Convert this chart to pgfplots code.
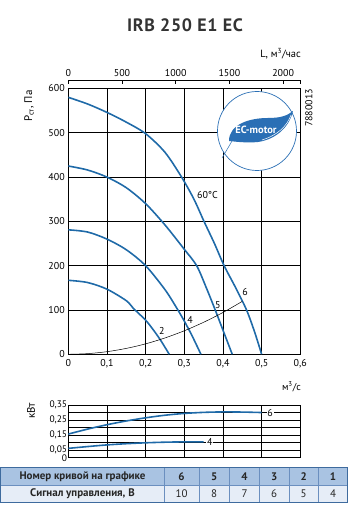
\documentclass[border=0pt]{standalone}
\usepackage{pgfplots}
\pgfplotsset{compat=1.18}
\usepackage{fontspec}
\setmainfont{PT Sans}
\definecolor{curveblue}{HTML}{1F6AA8}
\definecolor{logoblue}{HTML}{2A6FB5}
\definecolor{hdrfill}{HTML}{A9C3E2}
\definecolor{rowfill}{HTML}{E6EDF7}
\definecolor{tblborder}{HTML}{3E6B9E}
\definecolor{tblinner}{HTML}{6B8FBF}
\definecolor{titlegray}{HTML}{333333}
\begin{document}
\begin{tikzpicture}
\useasboundingbox (0,0) rectangle (348bp,509bp);
% ---------------- main pressure chart
\begin{axis}[
  at={(68.3bp,154.7bp)}, anchor=south west,
  scale only axis, width=232bp, height=265.8bp,
  xmin=0, xmax=0.6, ymin=0, ymax=600,
  xtick={0,0.1,0.2,0.3,0.4,0.5,0.6},
  ytick={0,100,200,300,400,500,600},
  scaled ticks=false,
  grid=major, grid style={black, line width=0.6pt},
  axis line style={black, line width=0.8pt},
  major tick length=0pt,
  tick label style={font=\fontsize{10}{12}\selectfont},
  xticklabel style={yshift=-2bp},
  /pgf/number format/.cd, use comma, fixed, assume math mode=true,
]
% curve 6
\addplot[curveblue, line width=1.6pt, smooth, tension=0.5] coordinates {
 (0,580) (0.05,565) (0.1,546) (0.15,524) (0.2,498) (0.25,456) (0.293,400)
 (0.325,350) (0.351,300) (0.378,250) (0.403,200) (0.433,150) (0.461,100) (0.482,50) (0.5,0)};
% curve 5
\addplot[curveblue, line width=1.6pt, smooth, tension=0.5] coordinates {
 (0,425) (0.05,416) (0.1,400) (0.15,376) (0.2,340) (0.25,292) (0.3,237)
 (0.332,200) (0.357,150) (0.38,100) (0.402,50) (0.424,0)};
% curve 4
\addplot[curveblue, line width=1.6pt, smooth, tension=0.5] coordinates {
 (0,281) (0.05,276) (0.1,260) (0.15,236) (0.2,200) (0.25,146) (0.28,105)
 (0.3,75) (0.32,42) (0.343,0)};
% curve 2
\addplot[curveblue, line width=1.6pt, smooth, tension=0.5] coordinates {
 (0,167) (0.05,162) (0.1,147) (0.15,121) (0.168,104) (0.2,77) (0.22,55) (0.24,30) (0.261,0)};
% system curve
\addplot[black, line width=0.5pt, smooth] coordinates {
 (0,0) (0.05,1.5) (0.1,5.9) (0.15,13.3) (0.2,23.6) (0.25,36.9) (0.3,53.1)
 (0.35,72.3) (0.4,94.4) (0.45,119.5)};
\node[font=\fontsize{10}{12}\selectfont] at (axis cs:0.242,52) {2};
\node[font=\fontsize{10}{12}\selectfont] at (axis cs:0.315,77) {4};
\node[font=\fontsize{10}{12}\selectfont] at (axis cs:0.387,111) {5};
\node[font=\fontsize{10}{12}\selectfont] at (axis cs:0.457,141) {6};
\node[font=\fontsize{10}{12}\selectfont] at (axis cs:0.36,360) {60°C};
\end{axis}
% ---------------- top axis (m3/h)
\begin{axis}[
  at={(68.3bp,420.5bp)}, anchor=south west,
  scale only axis, width=232bp, height=8bp,
  xmin=0, xmax=2160, ymin=0, ymax=1,
  axis x line=top, axis y line=none,
  axis line style={black, line width=0.8pt, -},
  xtick={0,500,1000,1500,2000},
  extra x ticks={2160}, extra x tick labels={},
  tick align=inside, major tick length=3.5bp,
  tick style={black, line width=0.8pt},
  scaled ticks=false,
  tick label style={font=\fontsize{10}{12}\selectfont},
  /pgf/number format/.cd, 1000 sep={}, assume math mode=true,
]
\addplot[draw=none] coordinates {(0,0)};
\end{axis}
% ---------------- power chart
\begin{axis}[
  at={(68.3bp,51.3bp)}, anchor=south west,
  scale only axis, width=232bp, height=52.7bp,
  xmin=0, xmax=0.6, ymin=0, ymax=0.35,
  xtick={0,0.1,0.2,0.3,0.4,0.5,0.6}, xticklabels={},
  ytick={0,0.05,0.15,0.25,0.35},
  yticklabels={\raisebox{-1.5bp}{0},\raisebox{1.5bp}{0,05},{0,15},{0,25},{0,35}},
  extra y ticks={0.1,0.2,0.3}, extra y tick labels={},
  extra tick style={grid=major, major tick length=0pt},
  grid=major, grid style={black, line width=0.6pt},
  axis line style={black, line width=0.8pt},
  major tick length=0pt,
  tick label style={font=\fontsize{9.5}{10}\selectfont},
  yticklabel style={inner sep=1pt},
]
\addplot[curveblue, line width=1.6pt, smooth] coordinates {
 (0,0.157) (0.05,0.19) (0.1,0.219) (0.15,0.244) (0.2,0.265) (0.25,0.282)
 (0.3,0.294) (0.35,0.301) (0.4,0.304) (0.45,0.303) (0.5,0.30)};
\addplot[curveblue, line width=1.6pt, smooth] coordinates {
 (0,0.062) (0.05,0.074) (0.1,0.085) (0.15,0.093) (0.2,0.099) (0.25,0.103) (0.3,0.105) (0.35,0.105)};
\addplot[black, line width=0.5pt] coordinates {(0.35,0.105) (0.384,0.105)};
\node[fill=white, inner sep=0.8pt, font=\fontsize{10}{11}\selectfont] at (axis cs:0.522,0.30) {6};
\node[fill=white, inner sep=0.8pt, font=\fontsize{10}{11}\selectfont] at (axis cs:0.366,0.105) {4};
\end{axis}
% ---------------- decorations (image coordinates, y downward)
\begin{scope}[x=1bp, y=-1bp, shift={(0bp,509bp)}]
\node[font=\fontsize{18}{20}\selectfont\bfseries, text=titlegray] at (185,25) {\addfontfeatures{LetterSpace=4}IRB 250 E1 EC};
\node[anchor=east, font=\fontsize{10.5}{12}\selectfont, inner sep=0pt] at (301,54) {L, м\textsuperscript{3}/час};
\node[rotate=90, font=\fontsize{11}{12}\selectfont] at (29,106) {P\textsubscript{ст}, Па};
\node[rotate=90, font=\fontsize{10}{12}\selectfont] at (309,108) {7880013};
\node[anchor=east, font=\fontsize{10}{12}\selectfont, inner sep=0pt] at (301,387) {м\textsuperscript{3}/с};
\node[rotate=90, font=\fontsize{11}{12}\selectfont] at (31,411) {кВт};
% logo
\filldraw[draw=logoblue, fill=white, line width=0.7pt] (257,131) circle (39.5bp);
\fill[logoblue] (229,141) .. controls (229,124) and (250,118) .. (268,118)
   .. controls (280,118) and (287,116) .. (293,111)
   .. controls (290,125) and (278,139) .. (258,142)
   .. controls (248,143) and (238,142) .. (229,141) -- cycle;
\draw[white, line width=0.5pt] (262,140) .. controls (278,135) and (287,126) .. (291,115);
\draw[logoblue, line width=0.5pt] (232,141) .. controls (228,148) and (225,153) .. (222,158);
\node[text=white, font=\fontsize{10.5}{12}\selectfont\bfseries] at (256,130) {EC-motor};
% table
\fill[hdrfill] (0.5,468) rectangle (347.5,485.3);
\fill[rowfill] (0.5,485.3) rectangle (347.5,502.3);
\foreach \x in {164,199,229.5,259.5,289,318.5}{
  \draw[tblinner, line width=0.6pt] (\x,468) -- (\x,502.3);
}
\draw[tblinner, line width=0.6pt] (0.5,485.3) -- (347.5,485.3);
\draw[tblborder, line width=1pt] (0.5,468) rectangle (347.5,502.3);
\node[font=\fontsize{11}{12}\selectfont\bfseries, text=black!85] at (82.5,476.8) {Номер кривой на графике};
\node[font=\fontsize{11}{12}\selectfont\bfseries, text=black!85] at (82.5,493.8) {Сигнал управления, В};
\foreach \xc/\a/\b in {181.5/6/10, 214.2/5/8, 244.5/4/7, 274.2/3/6, 303.7/2/5, 333/1/4}{
  \node[font=\fontsize{11}{12}\selectfont\bfseries, text=black!85] at (\xc,476.8) {\a};
  \node[font=\fontsize{11}{12}\selectfont, text=black!85] at (\xc,493.8) {\b};
}
\end{scope}
\end{tikzpicture}
\end{document}
